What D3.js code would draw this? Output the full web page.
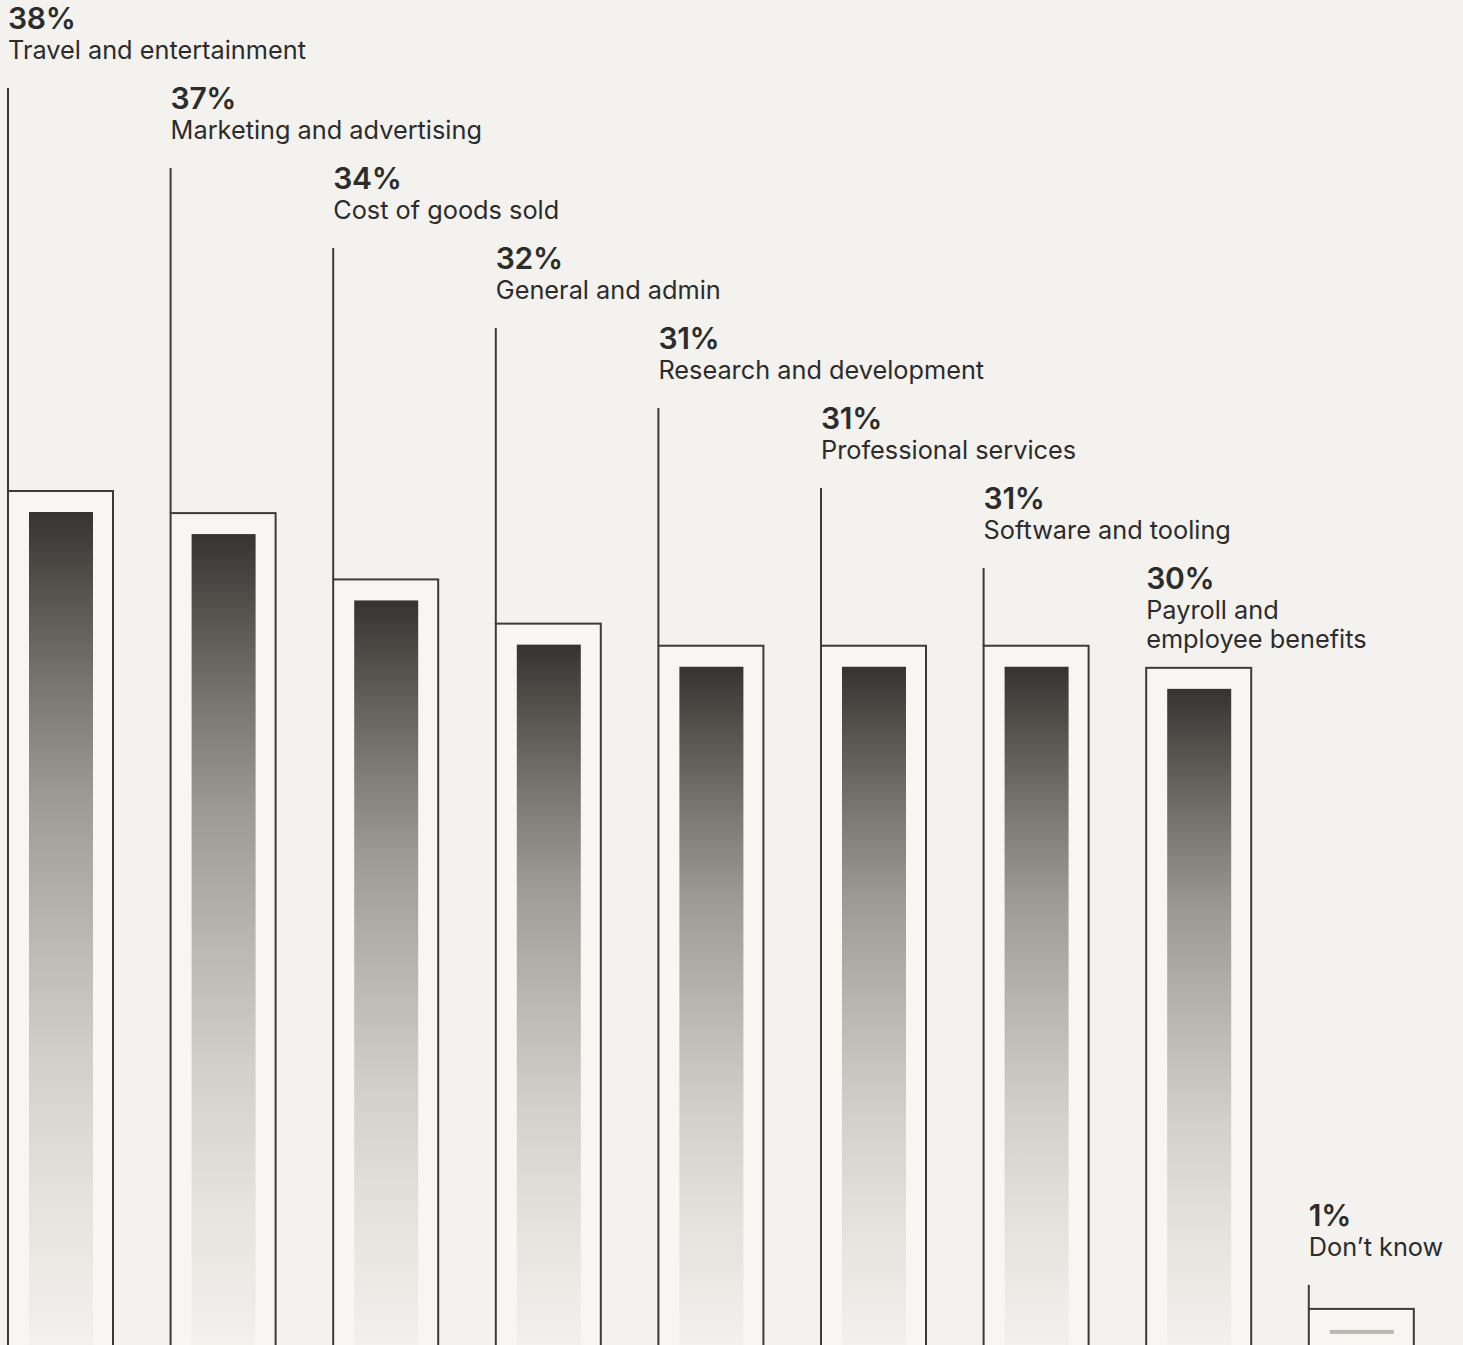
<!DOCTYPE html>
<html>
<head>
<meta charset="utf-8">
<script src="https://cdn.jsdelivr.net/npm/d3@7"></script>
<style>
  html, body { margin: 0; padding: 0; background: #f3f2ee; }
  svg { display: block; }
</style>
</head>
<body>
<script>
// Share of respondents by spending category
const categories = [
  "Travel and entertainment",
  "Marketing and advertising",
  "Cost of goods sold",
  "General and admin",
  "Research and development",
  "Professional services",
  "Software and tooling",
  "Payroll and employee benefits",
  "Don’t know"
];
const values = [38, 37, 34, 32, 31, 31, 31, 30, 1];
// Line breaks used for the category labels
const labelLines = [
  ["Travel and entertainment"],
  ["Marketing and advertising"],
  ["Cost of goods sold"],
  ["General and admin"],
  ["Research and development"],
  ["Professional services"],
  ["Software and tooling"],
  ["Payroll and", "employee benefits"],
  ["Don’t know"]
];
const detachedCategory = "Don’t know";

const W = 1463, H = 1345;
const ink = "#2c2c2a";
const frame = "#3b3b39";

const svg = d3.select("body").append("svg")
  .attr("width", W).attr("height", H);

svg.append("rect").attr("width", W).attr("height", H).attr("fill", "#f3f2ee");

const x = d3.scaleBand()
  .domain(categories)
  .range([8, 8 + 162.6 * categories.length])
  .paddingInner(0).paddingOuter(0);

const y = d3.scaleLinear().domain([0, 38]).range([1331, 491]);

const frameW = 105, inset = 21, barW = 64, bottom = H + 10;

// Vertical fade used inside each bar
const defs = svg.append("defs");
const grad = defs.append("linearGradient")
  .attr("id", "fade").attr("x1", 0).attr("y1", 0).attr("x2", 0).attr("y2", 1);
[
  [0, "#353432"],
  [0.1, "#56554f"],
  [0.22, "#7b7a74"],
  [0.34, "#9c9b95"],
  [0.5, "#b8b7b0"],
  [0.65, "#d1d0ca"],
  [0.82, "#e4e3de"],
  [1, "#f3f2ee"]
].forEach(([o, c]) => grad.append("stop").attr("offset", o).attr("stop-color", c));

const g = svg.selectAll("g.item")
  .data(categories.map((c, i) => ({ cat: c, v: values[i], lines: labelLines[i], i })))
  .join("g").attr("class", "item");

// Label placement: staircase, except the detached category which sits above its bar
g.each(function (d) {
  d.pctY = d.cat === detachedCategory ? y(d.v) - 83 : 29 + 80 * d.i;
  d.lastY = d.pctY + 30 + 29 * (d.lines.length - 1);
  d.leadTop = d.lastY + 29;
});

// Outer frame
g.append("rect")
  .attr("x", d => x(d.cat))
  .attr("y", d => y(d.v))
  .attr("width", frameW)
  .attr("height", d => bottom - y(d.v))
  .attr("fill", "#f7f6f3")
  .attr("stroke", frame)
  .attr("stroke-width", 2);

// Inner gradient bar; very small shares collapse to a thin grey rule
const tiny = d => d.v < 5;
g.append("rect")
  .attr("x", d => x(d.cat) + inset)
  .attr("y", d => y(d.v) + inset)
  .attr("width", barW)
  .attr("height", d => tiny(d) ? 4 : bottom - (y(d.v) + inset))
  .attr("fill", d => tiny(d) ? "#b9b8b1" : "url(#fade)");

// Leader line from label down to the frame
g.filter(d => d.leadTop < y(d.v))
  .append("line")
  .attr("x1", d => x(d.cat)).attr("x2", d => x(d.cat))
  .attr("y1", d => d.leadTop)
  .attr("y2", d => y(d.v))
  .attr("stroke", frame)
  .attr("stroke-width", 2);

// Percentage
g.append("text")
  .attr("x", d => x(d.cat))
  .attr("y", d => d.pctY)
  .attr("font-family", "Inter, 'Noto Sans', sans-serif")
  .attr("font-weight", 600)
  .attr("font-size", 30)
  .attr("letter-spacing", -0.3)
  .attr("fill", ink)
  .text(d => d.v + "%");

// Category name
g.append("text")
  .attr("font-family", "Inter, 'Noto Sans', sans-serif")
  .attr("font-weight", 400)
  .attr("font-size", 25.3)
  .attr("fill", ink)
  .selectAll("tspan")
  .data(d => d.lines.map((t, k) => ({ t, k, d })))
  .join("tspan")
  .attr("x", o => x(o.d.cat))
  .attr("y", o => o.d.pctY + 30 + 29 * o.k)
  .text(o => o.t);
</script>
</body>
</html>
